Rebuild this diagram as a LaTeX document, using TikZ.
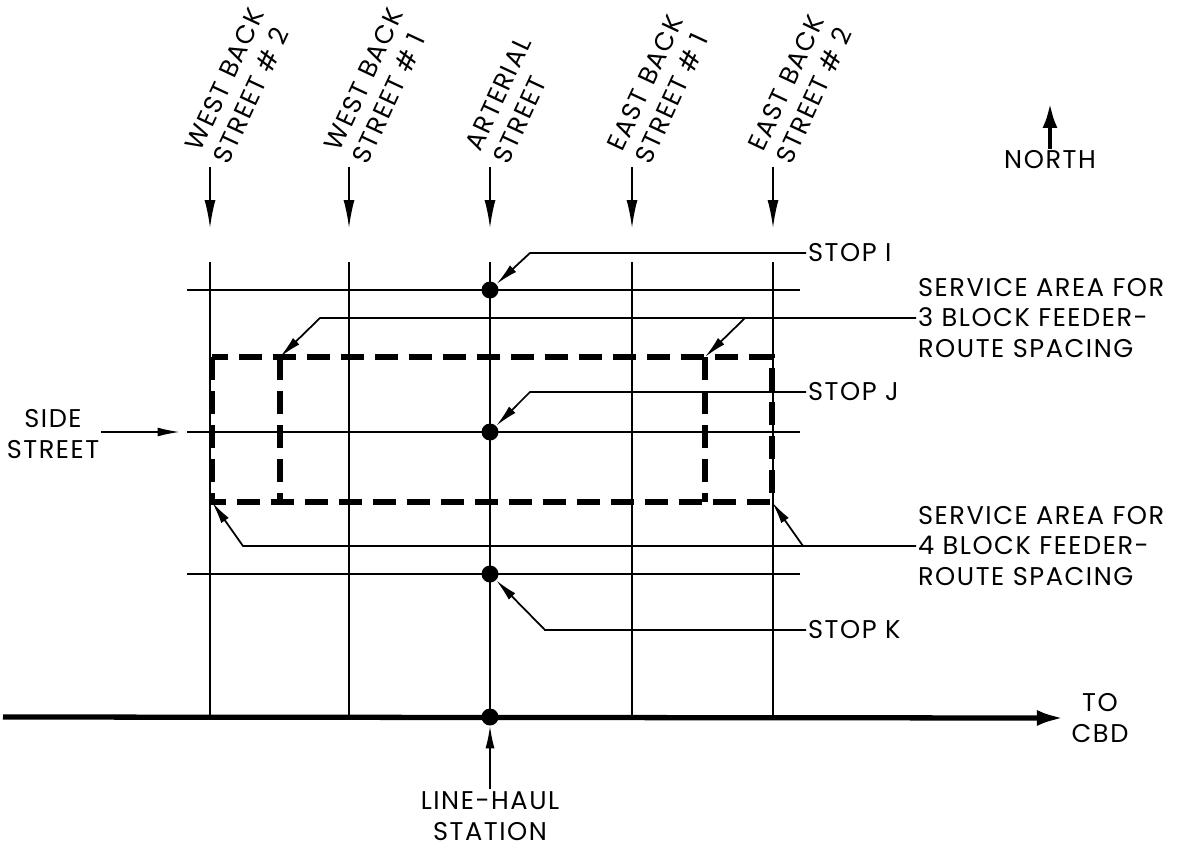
\documentclass[tikz,border=0pt]{standalone}
\usepackage{fontspec}
\setmainfont{Poppins}[LetterSpace=6]
\usepackage{tikz}
\usetikzlibrary{positioning,arrows.meta}
\tikzset{
  street/.style={line width=1pt},
  haul/.style={line width=3pt, -{Latex[length=0.55cm,width=0.32cm]}},
  area/.style={line width=3.2pt, dash pattern=on 0.46cm off 0.22cm},
  leader/.style={line width=1pt, -{Latex[length=0.45cm,width=0.18cm]}},
  stopdot/.style={circle, fill, inner sep=0pt, minimum size=0.34cm},
  lbl/.style={font=\fontsize{14.6}{17.5}\selectfont, inner sep=1pt},
  streetlbl/.style={lbl, align=left, rotate=65, anchor=south west, inner sep=0pt}
}

\begin{document}
\begin{tikzpicture}[x=0.02cm, y=-0.02cm]
  \useasboundingbox (0,0) rectangle (1179,848);

  % street labels along the top
  \foreach \x/\nm/\txt in {210/wb2/{WEST BACK\\STREET \# 2},
      349/wb1/{WEST BACK\\STREET \# 1}, 490/art/{ARTERIAL\\STREET},
      632/eb1/{EAST BACK\\STREET \# 1}, 773/eb2/{EAST BACK\\STREET \# 2}} {
    \node[streetlbl] (\nm) at (\x+19,166) {\txt};
    \coordinate (\nm-a) at (\x,167);
    \coordinate (\nm-b) at (\x,228);
    \draw[leader, -{Latex[length=0.56cm,width=0.22cm]}] (\nm-a) -- (\nm-b);
    \draw[street] (\x,262) -- (\x,717);
  }

  % side streets
  \foreach \y in {290,432,574}
    \draw[street] (187,\y) -- (800,\y);

  % service areas
  \coordinate (a4nw) at (212,357);
  \coordinate (a4se) at (772,502);
  \coordinate (a4sw) at (212,502);
  \coordinate (a3nw) at (280,357);
  \coordinate (a3sw) at (280,502);
  \coordinate (a3ne) at (705,357);
  \coordinate (a3se) at (705,502);
  \draw[area] (a4nw) rectangle (a4se);
  \draw[area] (a3nw) -- (a3sw);
  \draw[area] (a3ne) -- (a3se);

  % stops
  \node[stopdot] (stopI) at (490,290) {};
  \node[stopdot] (stopJ) at (490,432) {};
  \node[stopdot] (stopK) at (490,574) {};
  \node[stopdot] (station) at (490,717) {};

  \node[lbl, anchor=west] (lblI) at (806,253) {STOP I};
  \node[lbl, anchor=west] (lblJ) at (806,392) {STOP J};
  \node[lbl, anchor=west] (lblK) at (806,630) {STOP K};
  \draw[leader] (lblI.west) -- ([xshift=0.8cm]stopI |- lblI.west) -- (stopI);
  \draw[leader] (lblJ.west) -- ([xshift=0.8cm]stopJ |- lblJ.west) -- (stopJ);
  \draw[leader] (lblK.west) -- ([xshift=1.1cm]stopK |- lblK.west) -- (stopK);

  \node[lbl, anchor=west, align=left] (area3) at (916,318)
    {SERVICE AREA FOR\\3 BLOCK FEEDER-\\ROUTE SPACING};
  \node[lbl, anchor=west, align=left] (area4) at (916,546)
    {SERVICE AREA FOR\\4 BLOCK FEEDER-\\ROUTE SPACING};
  \draw[leader] (area3.west) -- ([xshift=0.8cm]a3nw |- area3.west) -- (a3nw);
  \draw[leader] ([xshift=0.8cm]a3ne |- area3.west) -- (a3ne);
  \draw[leader] (area4.west) -- ([xshift=0.62cm]a4sw |- area4.west) -- (a4sw);
  \draw[leader] ([xshift=0.62cm]a4se |- area4.west) -- (a4se);

  \node[lbl, align=center] (side) at (53,434) {SIDE\\STREET};
  \coordinate (sidetip) at (180,432);
  \draw[leader] (side.east |- sidetip) -- (sidetip);

  % line-haul route
  \coordinate (haulw) at (3,717);
  \node[lbl, align=center, inner sep=4pt] (cbd) at (1100,718) {TO\\CBD};
  \draw[haul] (haulw) -- (cbd.west);
  \node[lbl, align=center] (lhlbl) at (490,816) {LINE-HAUL\\STATION};
  \draw[leader] (lhlbl.north) -- (station);

  % north
  \node[lbl] (north) at (1050,160) {NORTH};
  \coordinate (northtip) at (1050,103);
  \draw[line width=2.5pt, -{Latex[length=0.5cm,width=0.3cm]}] (north.north) -- (northtip);
\end{tikzpicture}
\end{document}
